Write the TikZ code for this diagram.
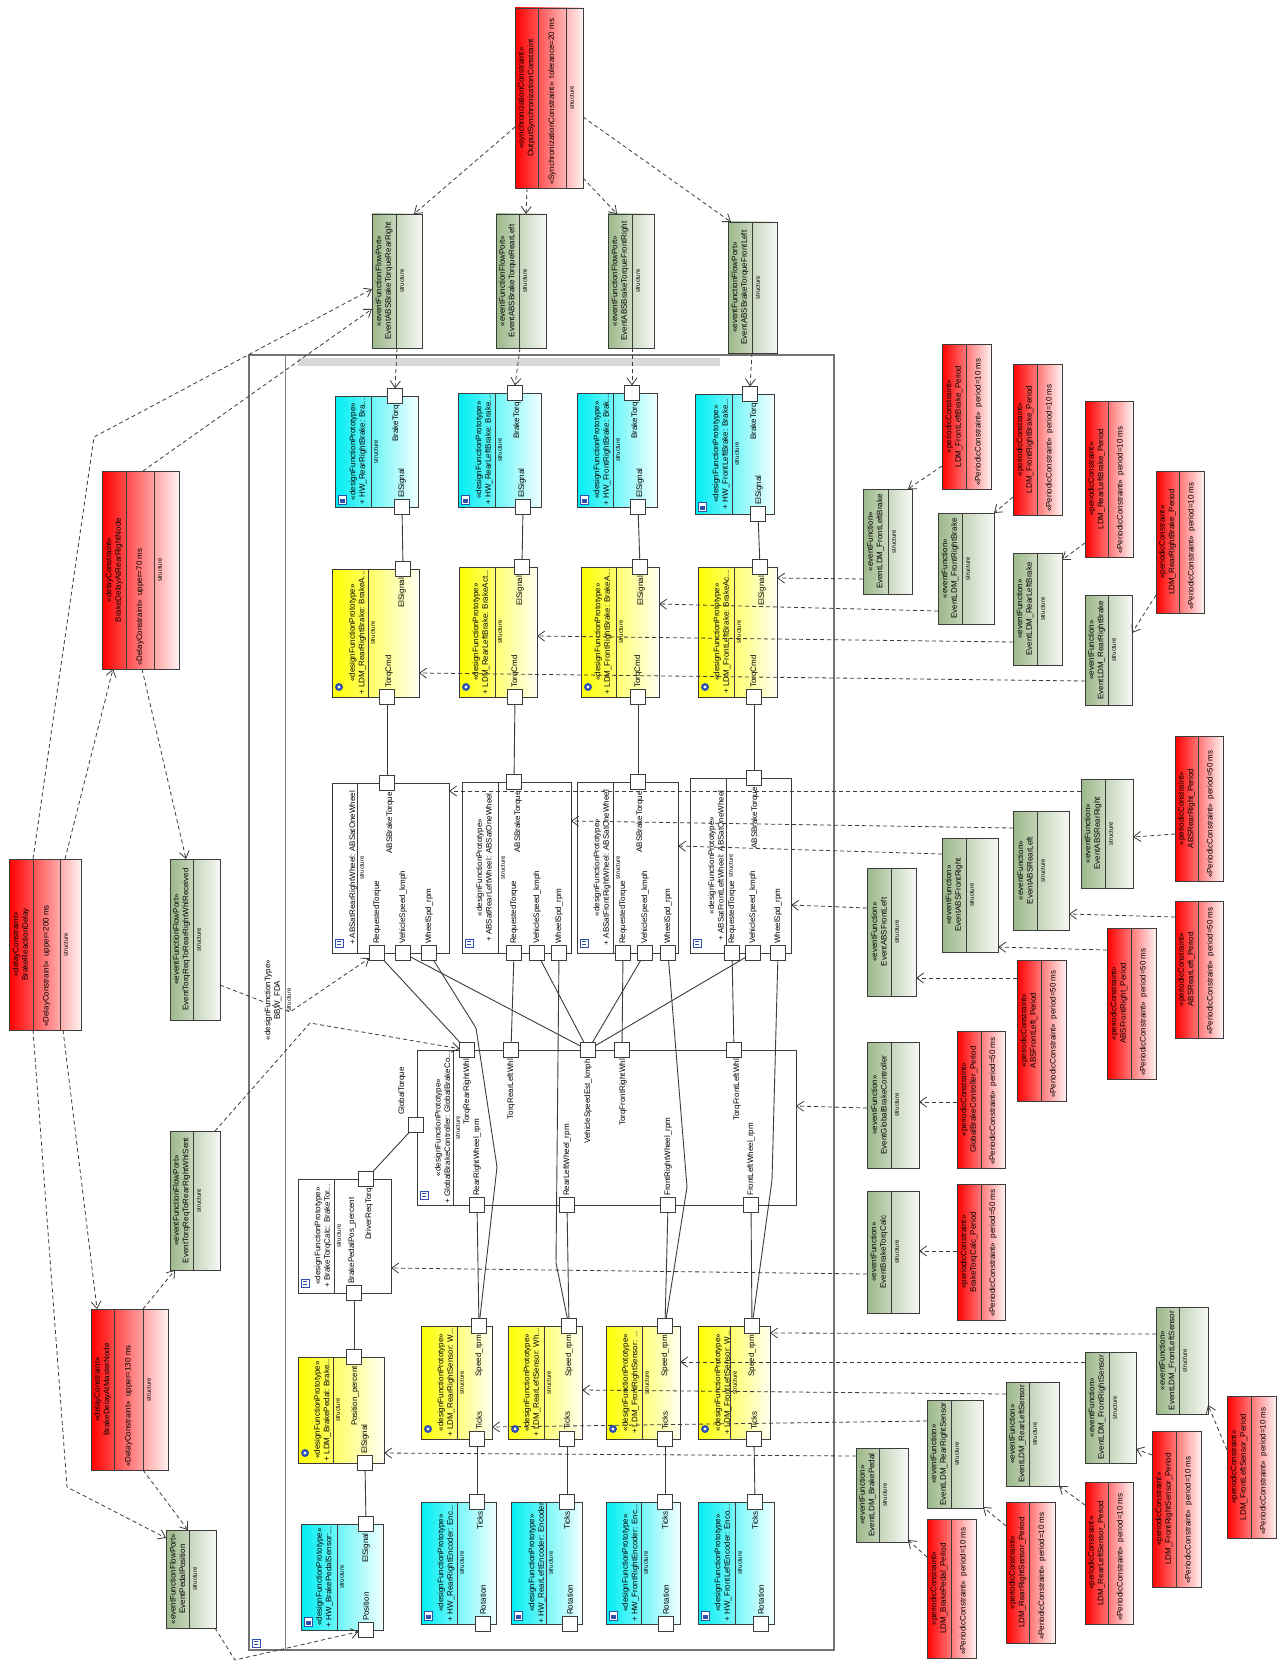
\documentclass[tikz,border=0pt]{standalone}
\usepackage{fontspec}
\setmainfont{Liberation Sans}
\usetikzlibrary{arrows.meta}
\definecolor{bord}{HTML}{3C3C3C}
\definecolor{redL}{HTML}{FF0000}
\definecolor{redR}{HTML}{FFF2F2}
\definecolor{grnL}{HTML}{9CB88A}
\definecolor{grnR}{HTML}{F6F8F4}
\definecolor{cyaL}{HTML}{00EEF2}
\definecolor{cyaR}{HTML}{F2FFFF}
\definecolor{yelL}{HTML}{FFFF00}
\definecolor{yelR}{HTML}{FFFFF2}
\definecolor{icb}{HTML}{3050B0}
\tikzset{
 box/.style={draw=bord,line width=0.9pt,inner sep=0pt,outer sep=0pt,anchor=north west},
 redbox/.style={box,left color=redL,right color=redR},
 grnbox/.style={box,left color=grnL,right color=grnR},
 cyabox/.style={box,left color=cyaL,right color=cyaR},
 yelbox/.style={box,left color=yelL,right color=yelR},
 whtbox/.style={box,fill=white},
 tx/.style={rotate=90,inner sep=0pt,font=\fontsize{8}{9.5}\selectfont,text=black},
 st/.style={rotate=90,inner sep=0pt,font=\fontsize{6}{7}\selectfont,text=black},
 port/.style={draw=bord,fill=white,line width=0.9pt,minimum size=15pt,inner sep=0pt,outer sep=0pt},
 conn/.style={draw=bord,line width=0.9pt},
 dep/.style={draw=bord,line width=0.8pt,dash pattern=on 4pt off 3pt,-{Straight Barb[length=7pt,width=10pt]}},
}
\newcommand\BX[6]{\node[#6,minimum width={#4-#2},minimum height={#5-#3}] (#1) at (#2,#3) {};}
\newcommand\VL[3]{\draw[bord,line width=0.8pt] (#1,#2) -- (#1,#3);}
\newcommand\PC[8]{\BX{#1}{#2}{#3}{#4}{#5}{redbox}\VL{#6}{#3}{#5}%
 \node[tx,align=center] at ({(#2+#6)/2},{(#3+#5)/2}) {«periodicConstraint»\\#7};%
 \node[tx,anchor=west] at ({(#6+#4)/2},{#5-3}) {«PeriodicConstraint»\ \ #8};}
\newcommand\EV[8]{\BX{#1}{#2}{#3}{#4}{#5}{grnbox}\VL{#6}{#3}{#5}%
 \node[tx,align=center] at ({(#2+#6)/2},{(#3+#5)/2}) {#7\\#8};%
 \node[st] at ({#6+6},{(#3+#5)/2}) {structure};}
\newcommand\DC[9]{\BX{#1}{#2}{#3}{#4}{#5}{redbox}\VL{#6}{#3}{#5}\VL{#7}{#3}{#5}%
 \node[tx,align=center] at ({(#2+#6)/2},{(#3+#5)/2}) {#8};%
 \node[tx,anchor=west] at ({(#6+#7)/2},{#5-3}) {#9};%
 \node[st] at ({#7+6},{(#3+#5)/2}) {structure};}
\newcommand\FP[9]{\BX{#1}{#2}{#3}{#4}{#5}{#7}\VL{#6}{#3}{#5}%
 \node[tx,align=center] at (#9,{(#3+#5)/2}) {#8};%
 \node[st] at ({#6+5},{(#3+#5)/2}) {structure};}
\newcommand\PT[3]{\node[port] (#1) at (#2,#3) {};}
\newcommand\LT[3]{\node[tx,anchor=east] at (#1,#2) {#3};}
\newcommand\LB[3]{\node[tx,anchor=west] at (#1,#2) {#3};}
\newcommand\ICy[2]{\fill[icb] (#1,#2) circle (4pt);\fill[white] (#1,#2) circle (1.7pt);}
\newcommand\ICc[2]{\draw[icb,fill=white,line width=0.6pt] ({#1-4},{#2-5}) rectangle ({#1+4},{#2+4});\fill[icb] ({#1-2},{#2-1}) rectangle ({#1+3},{#2+3});}
\newcommand\ICw[2]{\draw[icb,fill=white,line width=0.6pt] ({#1-4},{#2-4}) rectangle ({#1+4},{#2+4});\draw[icb,line width=0.5pt] ({#1-2},{#2-1.5}) -- ({#1+2},{#2-1.5}) ({#1-2},{#2+1.5}) -- ({#1+2},{#2+1.5});}
\begin{document}
\begin{tikzpicture}[x=1pt,y=-1pt]
\fill[white] (0,0) rectangle (1283,1669);
\useasboundingbox (0,0) rectangle (1283,1669);
% frame
\node[draw=gray!90!black,line width=1.3pt,fill=white,inner sep=0pt,outer sep=0pt,anchor=north west,minimum width=585,minimum height=1295] (frame) at (249,355) {};
\draw[gray,line width=1pt] (285,355) -- (285,1650);
\fill[gray!30] (298,358) rectangle (720,366);
\node[tx,align=center] at (273,1000) {«designFunctionType»\\BBW\_FDA};
\node[st] at (289,1000) {structure};
\ICw{256}{1643}
% ---------- top ----------
\DC{sync}{515}{8}{583}{188}{538}{566}{«synchronizationConstraint»\\OutputSynchronizationConstraint}{«SynchronizationConstraint»\ \ tolerance=20 ms}
\EV{pRR}{372}{214}{422}{348}{396}{«eventFunctionFlowPort»}{EventABSBrakeTorqueRearRight}
\EV{pRL}{496}{214}{546}{348}{519}{«eventFunctionFlowPort»}{EventABSBrakeTorqueRearLeft}
\EV{pFR}{608}{214}{654}{348}{632}{«eventFunctionFlowPort»}{EventABSBrakeTorqueFrontRight}
\EV{pFL}{728}{222}{777}{353}{752}{«eventFunctionFlowPort»}{EventABSBrakeTorqueFrontLeft}
% ---------- HW brakes ----------
\FP{hRR}{335}{396}{418}{507}{371}{cyabox}{«designFunctionPrototype»\\+ HW\_RearRightBrake: Bra...}{358}
\FP{hRL}{458}{393}{541}{507}{495}{cyabox}{«designFunctionPrototype»\\+ HW\_RearLeftBrake: Brake...}{484}
\FP{hFR}{577}{393}{657}{507}{613}{cyabox}{«designFunctionPrototype»\\+ HW\_FrontRightBrake: Brak...}{602}
\FP{hFL}{695}{394}{774}{514}{732}{cyabox}{«designFunctionPrototype»\\+ HW\_FrontLeftBrake: Brake...}{721}
\ICc{342}{500}\ICc{465}{500}\ICc{584}{500}\ICc{702}{507}
\LT{396}{405}{BrakeTorq}\LB{402}{498}{ElSignal}
\LT{517}{402}{BrakeTorq}\LB{522}{498}{ElSignal}
\LT{635}{402}{BrakeTorq}\LB{640}{498}{ElSignal}
\LT{754}{403}{BrakeTorq}\LB{759}{505}{ElSignal}
% ---------- LDM brakes ----------
\FP{lRR}{332}{569}{419}{697}{368}{yelbox}{«designFunctionPrototype»\\+ LDM\_RearRightBrake: BrakeA...}{357.5}
\FP{lRL}{459}{567}{537}{697}{495}{yelbox}{«designFunctionPrototype»\\+ LDM\_RearLeftBrake: BrakeAct...}{481}
\FP{lFR}{581}{567}{659}{697}{616}{yelbox}{«designFunctionPrototype»\\+ LDM\_FrontRightBrake: BrakeA...}{603}
\FP{lFL}{698}{567}{777}{697}{734}{yelbox}{«designFunctionPrototype»\\+ LDM\_FrontLeftBrake: BrakeAc...}{722}
\ICy{339}{687}\ICy{466}{687}\ICy{588}{687}\ICy{705}{687}
\LT{402}{578}{ElSignal}\LB{389}{688}{TorqCmd}
\LT{520}{576}{ElSignal}\LB{515}{688}{TorqCmd}
\LT{641}{576}{ElSignal}\LB{638}{688}{TorqCmd}
\LT{762}{576}{ElSignal}\LB{754}{688}{TorqCmd}
% ---------- ABS ----------
\FP{aRR}{332}{783}{449}{953}{357}{whtbox}{+ ABSatRearRightWheel: ABSatOneWheel}{353}
\FP{aRL}{462}{782}{571}{953}{498}{whtbox}{«designFunctionPrototype»\\+ ABSatRearLeftWheel: ABSatOneWheel}{484}
\FP{aFR}{577}{782}{678}{953}{613}{whtbox}{«designFunctionPrototype»\\+ ABSatFrontRightWheel: ABSatOneWheel}{602}
\FP{aFL}{690}{778}{791}{953}{726}{whtbox}{«designFunctionPrototype»\\+ ABSatFrontLeftWheel: ABSatOneWheel}{716}
\ICw{339}{943}\ICw{469}{943}\ICw{584}{943}\ICw{697}{943}
\LT{390}{792}{ABSBrakeTorque}\LB{377}{944}{RequestedTorque}\LB{403}{944}{VehicleSpeed\_kmph}\LB{429}{944}{WheelSpd\_rpm}
\LT{518}{791}{ABSBrakeTorque}\LB{514}{944}{RequestedTorque}\LB{537}{944}{VehicleSpeed\_kmph}\LB{559}{944}{WheelSpd\_rpm}
\LT{640}{791}{ABSBrakeTorque}\LB{623}{944}{RequestedTorque}\LB{645}{944}{VehicleSpeed\_kmph}\LB{668}{944}{WheelSpd\_rpm}
\LT{755}{787}{ABSBrakeTorque}\LB{732}{944}{RequestedTorque}\LB{753}{944}{VehicleSpeed\_kmph}\LB{778}{944}{WheelSpd\_rpm}
% ---------- Global brake controller ----------
\FP{g}{417}{1050}{796}{1205}{453}{whtbox}{«designFunctionPrototype»\\+ GlobalBrakeController: GlobalBrakeCo...}{442.5}
\ICw{424}{1195}
\LT{467}{1059}{TorqRearRightWhl}\LT{511}{1059}{TorqRearLeftWhl}\LT{588}{1059}{VehicleSpeedEst\_kmph}\LT{623}{1059}{TorqFrontRightWhl}\LT{737}{1059}{TorqFrontLeftWhl}
\LB{477}{1196}{RearRightWheel\_rpm}\LB{567}{1196}{RearLeftWheel\_rpm}\LB{668}{1196}{FrontRightWheel\_rpm}\LB{751}{1196}{FrontLeftWheel\_rpm}
\LB{402}{1115}{GlobalTorque}
% ---------- brake torque calc / pedal ----------
\FP{b}{298}{1179}{391}{1293}{334}{whtbox}{«designFunctionPrototype»\\+ BrakeTorqCalc: BrakeTor...}{323}
\ICw{305}{1283}
\LT{369}{1188}{DriverReqTorq}\LB{352}{1284}{BrakePedalPos\_percent}
\FP{lBP}{298}{1357}{384}{1463}{333}{yelbox}{«designFunctionPrototype»\\+ LDM\_BrakePedal: Brake...}{322.5}
\ICy{305}{1453}
\LT{355}{1366}{Position\_percent}\LB{365}{1454}{ElSignal}
\FP{hBP}{301}{1524}{383}{1630}{337}{cyabox}{«designFunctionPrototype»\\+ HW\_BrakePedalSensor:...}{324.5}
\ICc{308}{1622}
\LT{366}{1533}{ElSignal}\LB{366}{1621}{Position}
% ---------- sensors ----------
\FP{sRR}{421}{1326}{492}{1439}{457}{yelbox}{«designFunctionPrototype»\\+ LDM\_RearRightSensor: W...}{446}
\FP{sRL}{508}{1326}{582}{1439}{544}{yelbox}{«designFunctionPrototype»\\+ LDM\_RearLeftSensor: Wh...}{532}
\FP{sFR}{606}{1326}{680}{1439}{642}{yelbox}{«designFunctionPrototype»\\+ LDM\_FrontRightSensor: ...}{630.5}
\FP{sFL}{698}{1326}{770}{1439}{730}{yelbox}{«designFunctionPrototype»\\+ LDM\_FrontLeftSensor: W...}{723}
\ICy{428}{1429}\ICy{515}{1429}\ICy{613}{1429}\ICy{705}{1429}
\LT{479}{1335}{Speed\_rpm}\LB{479}{1430}{Ticks}
\LT{569}{1335}{Speed\_rpm}\LB{567}{1430}{Ticks}
\LT{665}{1335}{Speed\_rpm}\LB{665}{1430}{Ticks}
\LT{752}{1335}{Speed\_rpm}\LB{754}{1430}{Ticks}
% ---------- encoders ----------
\FP{eRR}{421}{1502}{496}{1624}{457}{cyabox}{«designFunctionPrototype»\\+ HW\_RearRightEncoder: Enc...}{446}
\FP{eRL}{511}{1502}{582}{1624}{546}{cyabox}{«designFunctionPrototype»\\+ HW\_RearLeftEncoder: Encoder}{537}
\FP{eFR}{606}{1502}{680}{1624}{641}{cyabox}{«designFunctionPrototype»\\+ HW\_FrontRightEncoder: Enc...}{630.5}
\FP{eFL}{698}{1502}{774}{1624}{735}{cyabox}{«designFunctionPrototype»\\+ HW\_FrontLeftEncoder: Enco...}{723}
\ICc{428}{1616}\ICc{518}{1616}\ICc{613}{1616}\ICc{705}{1616}
\LT{480}{1511}{Ticks}\LB{483}{1615}{Rotation}
\LT{567}{1511}{Ticks}\LB{570}{1615}{Rotation}
\LT{665}{1511}{Ticks}\LB{666}{1615}{Rotation}
\LT{755}{1511}{Ticks}\LB{761}{1615}{Rotation}
% ---------- left constraints ----------
\DC{dRRN}{102}{471}{179}{669}{126}{154}{«delayConstraint»\\BrakeDelayAtRearRightNode}{«DelayConstraint»\ \ upper=70 ms}
\DC{dBRD}{9}{859}{81}{1030}{33}{60}{«delayConstraint»\\BrakeReactionDelay}{«DelayConstraint»\ \ upper=200 ms}
\DC{dMN}{91}{1309}{168}{1470}{114}{143}{«delayConstraint»\\BrakeDelayAtMasterNode}{«DelayConstraint»\ \ upper=130 ms}
\EV{evRcv}{170}{859}{220}{1020}{193}{«eventFunctionFlowPort»}{EventTorqReqToRearRightWhlReceived}
\EV{evSnt}{170}{1131}{220}{1270}{193}{«eventFunctionFlowPort»}{EventTorqReqToRearRightWhlSent}
\EV{evPed}{166}{1530}{216}{1628}{189}{«eventFunctionFlowPort»}{EventPedalPosition}
% ---------- right: brake events ----------
\EV{evFLB}{863}{489}{912}{594}{888}{«eventFunction»}{EventLDM\_FrontLeftBrake}
\EV{evFRB}{938}{513}{994}{624}{962}{«eventFunction»}{EventLDM\_FrontRightBrake}
\EV{evRLB}{1013}{553}{1062}{665}{1037}{«eventFunction»}{EventLDM\_RearLeftBrake}
\EV{evRRB}{1085}{595}{1132}{705}{1108}{«eventFunction»}{EventLDM\_RearRightBrake}
\PC{pcFLB}{942}{344}{991}{489}{966}{LDM\_FrontLeftBrake\_Period}{period=10 ms}
\PC{pcFRB}{1013}{364}{1062}{515}{1037}{LDM\_FrontRightBrake\_Period}{period=10 ms}
\PC{pcRLB}{1085}{401}{1133}{557}{1108}{LDM\_RearLeftBrake\_Period}{period=10 ms}
\PC{pcRRB}{1156}{471}{1204}{613}{1179}{LDM\_RearRightBrake\_Period}{period=10 ms}
% ---------- right: ABS events ----------
\EV{evARR}{1081}{779}{1133}{888}{1105}{«eventFunction»}{EventABSRearRight}
\EV{evARL}{1013}{811}{1069}{930}{1037}{«eventFunction»}{EventABSRearLeft}
\EV{evAFR}{942}{838}{998}{952}{966}{«eventFunction»}{EventABSFrontRight}
\EV{evAFL}{867}{868}{916}{996}{891}{«eventFunction»}{EventABSFrontLeft}
\PC{pcARR}{1175}{736}{1223}{881}{1198}{ABSRearRight\_Period}{period=50 ms}
\PC{pcARL}{1175}{901}{1223}{1038}{1198}{ABSRearLeft\_Period}{period=50 ms}
\PC{pcAFR}{1107}{928}{1156}{1079}{1131}{ABSFrontRight\_Period}{period=50 ms}
\PC{pcAFL}{1017}{960}{1066}{1101}{1041}{ABSFrontLeft\_Period}{period=50 ms}
% ---------- right: controller events ----------
\EV{evGBC}{867}{1042}{919}{1168}{891}{«eventFunction»}{EventGlobalBrakeController}
\PC{pcGBC}{957}{1031}{1005}{1168}{981}{GlobalBrakeController\_Period}{period=50 ms}
\EV{evBTC}{867}{1191}{919}{1313}{891}{«eventFunction»}{EventBrakeTorqCalc}
\PC{pcBTC}{957}{1184}{1005}{1320}{981}{BrakeTorqCalc\_Period}{period=50 ms}
% ---------- right: sensor events ----------
\EV{evSFL}{1156}{1307}{1208}{1414}{1179}{«eventFunction»}{EventLDM\_FrontLeftSensor}
\EV{evSFR}{1085}{1352}{1136}{1463}{1109}{«eventFunction»}{EventLDM\_FrontRightSensor}
\EV{evSRL}{1006}{1382}{1059}{1486}{1029}{«eventFunction»}{EventLDM\_RearLeftSensor}
\EV{evSRR}{927}{1400}{983}{1508}{951}{«eventFunction»}{EventLDM\_RearRightSensor}
\EV{evBP}{856}{1448}{908}{1542}{879}{«eventFunction»}{EventLDM\_BrakePedal}
\PC{pcSFL}{1227}{1396}{1276}{1538}{1251}{LDM\_FrontLeftSensor\_Period}{period=10 ms}
\PC{pcSFR}{1152}{1431}{1201}{1587}{1176}{LDM\_FrontRightSensor\_Period}{period=10 ms}
\PC{pcSRL}{1085}{1482}{1133}{1624}{1108}{LDM\_RearLeftSensor\_Period}{period=10 ms}
\PC{pcSRR}{1006}{1502}{1055}{1643}{1029}{LDM\_RearRightSensor\_Period}{period=10 ms}
\PC{pcBP}{927}{1519}{976}{1658}{951}{LDM\_BrakePedal\_Period}{period=10 ms}
% ---------- ports ----------
\PT{hRRbt}{395}{396}\PT{hRRel}{402}{507}
\PT{hRLbt}{515}{393}\PT{hRLel}{523}{507}
\PT{hFRbt}{632}{393}\PT{hFRel}{638}{507}
\PT{hFLbt}{750}{394}\PT{hFLel}{758}{514}
\PT{lRRel}{403}{569}\PT{lRRtc}{387}{697}
\PT{lRLel}{522}{567}\PT{lRLtc}{515}{697}
\PT{lFRel}{640}{567}\PT{lFRtc}{638}{697}
\PT{lFLel}{760}{567}\PT{lFLtc}{754}{697}
\PT{aRRtop}{387}{783}\PT{aRRrt}{377}{953}\PT{aRRvs}{403}{953}\PT{aRRws}{429}{953}
\PT{aRLtop}{514}{782}\PT{aRLrt}{514}{953}\PT{aRLvs}{537}{953}\PT{aRLws}{559}{953}
\PT{aFRtop}{638}{782}\PT{aFRrt}{623}{953}\PT{aFRvs}{645}{953}\PT{aFRws}{668}{953}
\PT{aFLtop}{754}{778}\PT{aFLrt}{732}{953}\PT{aFLvs}{753}{953}\PT{aFLws}{778}{953}
\PT{gTRR}{467}{1050}\PT{gTRL}{511}{1050}\PT{gVSE}{588}{1050}\PT{gTFR}{622}{1050}\PT{gTFL}{734}{1050}
\PT{gRR}{477}{1205}\PT{gRL}{567}{1205}\PT{gFR}{668}{1205}\PT{gFL}{751}{1205}\PT{gGT}{416}{1125}
\PT{bDRT}{366}{1179}\PT{bBPP}{354}{1293}
\PT{lBPpos}{354}{1357}\PT{lBPel}{365}{1463}
\PT{hBPel}{366}{1524}\PT{hBPpos}{366}{1630}
\PT{sRRsp}{479}{1326}\PT{sRRtk}{477}{1439}
\PT{sRLsp}{569}{1326}\PT{sRLtk}{567}{1439}
\PT{sFRsp}{665}{1326}\PT{sFRtk}{665}{1439}
\PT{sFLsp}{752}{1326}\PT{sFLtk}{754}{1439}
\PT{eRRtk}{477}{1502}\PT{eRRrot}{483}{1624}
\PT{eRLtk}{567}{1502}\PT{eRLrot}{570}{1624}
\PT{eFRtk}{665}{1502}\PT{eFRrot}{666}{1624}
\PT{eFLtk}{755}{1502}\PT{eFLrot}{761}{1624}
% ---------- solid connectors ----------
\draw[conn] (hRRel) -- (lRRel); \draw[conn] (hRLel) -- (lRLel); \draw[conn] (hFRel) -- (lFRel); \draw[conn] (hFLel) -- (lFLel);
\draw[conn] (lRRtc) -- (aRRtop); \draw[conn] (lRLtc) -- (aRLtop); \draw[conn] (lFRtc) -- (aFRtop); \draw[conn] (lFLtc) -- (aFLtop);
\draw[conn] (aRRrt) -- (gTRR); \draw[conn] (aRLrt) -- (gTRL); \draw[conn] (aFRrt) -- (gTFR); \draw[conn] (aFLrt) -- (gTFL);
\draw[conn] (aRRvs) -- (gVSE); \draw[conn] (aRLvs) -- (gVSE); \draw[conn] (aFRvs) -- (gVSE); \draw[conn] (aFLvs) -- (gVSE);
\draw[conn] (aRRws) -- (476,1028) -- (497,1167) -- (sRRsp);
\draw[conn] (aRLws) -- (556,1263) -- (sRLsp);
\draw[conn] (aFRws) -- (687,1187) -- (sFRsp);
\draw[conn] (aFLws) -- (772,1180) -- (sFLsp);
\draw[conn] (gRR) -- (sRRsp); \draw[conn] (gRL) -- (sRLsp); \draw[conn] (gFR) -- (sFRsp); \draw[conn] (gFL) -- (sFLsp);
\draw[conn] (gGT) -- (bDRT);
\draw[conn] (bBPP) -- (lBPpos); \draw[conn] (lBPel) -- (hBPel);
\draw[conn] (sRRtk) -- (eRRtk); \draw[conn] (sRLtk) -- (eRLtk); \draw[conn] (sFRtk) -- (eFRtk); \draw[conn] (sFLtk) -- (eFLtk);
% ---------- dashed dependencies ----------
\draw[dep] (sync.west |- 0,127) -- (pRR.north -| 414,0);
\draw[dep] (sync.south -| 527,0) -- (pRL.north -| 526,0);
\draw[dep] (sync.east |- 0,178) -- (pFR.north -| 617,0);
\draw[dep] (sync.east |- 0,117) -- (pFL.north -| 731,0);
\draw[dep] (pRR.south -| 397,0) -- (hRRbt.north);
\draw[dep] (pRL.south -| 520,0) -- (hRLbt.north);
\draw[dep] (pFR.south -| 632,0) -- (hFRbt.north);
\draw[dep] (pFL.south -| 752,0) -- (hFLbt.north);
\draw[dep] (dBRD.north -| 65,0) -- (dRRN.south -| 113,0);
\draw[dep] (dBRD.north -| 33,0) -- (94,437) -- (pRR.west |- 0,289);
\draw[dep] (dRRN.north -| 143,0) -- (pRR.west |- 0,309);
\draw[dep] (dRRN.south -| 142,0) -- (evRcv.north -| 186,0);
\draw[dep] (dBRD.south -| 63,0) -- (dMN.north -| 97,0);
\draw[dep] (dBRD.south -| 33,0) -- (67,1487) -- (evPed.west |- 0,1538);
\draw[dep] (dMN.north -| 143,0) -- (evSnt.south -| 175,0);
\draw[dep] (dMN.south -| 143,0) -- (evPed.north -| 188,0);
\draw[dep] (evRcv.east |- 0,985) -- (290,1012) -- (aRRrt);
\draw[dep] (evSnt.north -| 215,0) -- (310,1023) -- (gTRR);
\draw[dep] (evPed.south -| 215,0) -- (235,1660) -- (hBPpos);
\draw[dep] (pcFLB.west |- 0,466) -- (evFLB.north -| 908,0);
\draw[dep] (pcFRB.west |- 0,497) -- (evFRB.north east);
\draw[dep] (pcRLB.west |- 0,543) -- (evRLB.east |- 0,560);
\draw[dep] (pcRRB.west |- 0,595) -- (evRRB.east |- 0,633);
\draw[dep] (evFLB.west |- 0,579) -- (lFL.east |- 0,578);
\draw[dep] (evFRB.west |- 0,611) -- (lFR.east |- 0,604);
\draw[dep] (evRLB.west |- 0,642) -- (lRL.east |- 0,636);
\draw[dep] (evRRB.west |- 0,681) -- (lRR.east |- 0,673);
\draw[dep] (evARR.west |- 0,791) -- (aRR.east |- 0,791);
\draw[dep] (evARL.west |- 0,828) -- (aRL.east |- 0,821);
\draw[dep] (evAFR.west |- 0,854) -- (aFR.east |- 0,846);
\draw[dep] (evAFL.west |- 0,908) -- (aFL.east |- 0,905);
\draw[dep] (pcARR.west |- 0,834) -- (evARR.east |- 0,837);
\draw[dep] (pcARL.west |- 0,917) -- (evARL.east |- 0,914);
\draw[dep] (pcAFR.west |- 0,950) -- (evAFR.east |- 0,947);
\draw[dep] (pcAFL.west |- 0,978) -- (evAFL.east |- 0,978);
\draw[dep] (pcGBC.west |- 0,1102) -- (evGBC.east |- 0,1102);
\draw[dep] (evGBC.west |- 0,1108) -- (g.east |- 0,1106);
\draw[dep] (pcBTC.west |- 0,1251) -- (evBTC.east |- 0,1251);
\draw[dep] (evBTC.west |- 0,1274) -- (b.east |- 0,1268);
\draw[dep] (evSFL.west |- 0,1334) -- (sFL.east |- 0,1333);
\draw[dep] (evSFR.west |- 0,1362) -- (sFR.east |- 0,1362);
\draw[dep] (evSRL.west |- 0,1394) -- (sRL.east |- 0,1390);
\draw[dep] (evSRR.west |- 0,1421) -- (sRR.east |- 0,1427);
\draw[dep] (evBP.west |- 0,1456) -- (lBP.east |- 0,1453);
\draw[dep] (pcSFL.west |- 0,1450) -- (evSFL.east |- 0,1405);
\draw[dep] (pcSFR.west |- 0,1455) -- (evSFR.east |- 0,1449);
\draw[dep] (pcSRL.west |- 0,1505) -- (evSRL.east |- 0,1486);
\draw[dep] (pcSRR.west |- 0,1526) -- (evSRR.east |- 0,1507);
\draw[dep] (pcBP.west |- 0,1557) -- (evBP.east |- 0,1540);
\end{tikzpicture}
\end{document}
